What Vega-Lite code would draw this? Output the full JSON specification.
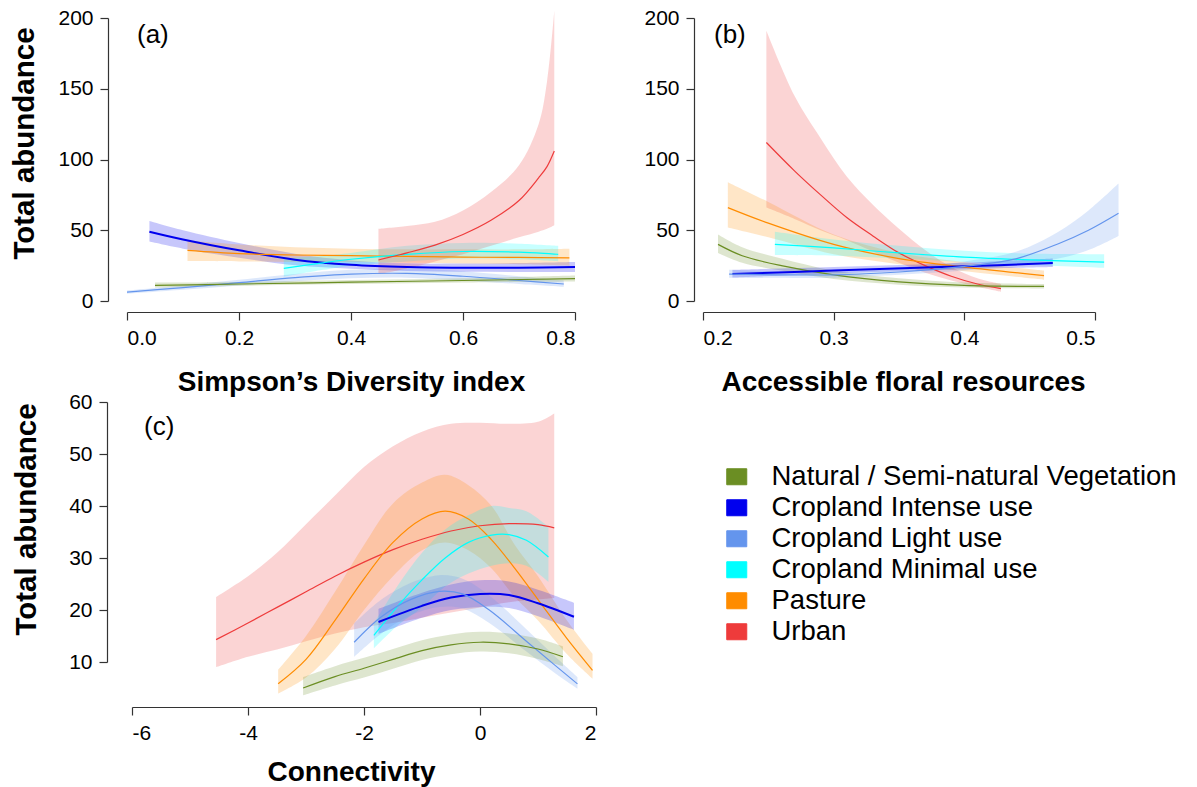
{
"$schema":"https://vega.github.io/schema/vega-lite/v6.json",
"background":"white",
"padding":{"left":8,"top":7,"right":5,"bottom":5},
"config":{
 "view":{"stroke":null},
 "font":"Liberation Sans",
 "axis":{"grid":false,"domainColor":"#333","tickColor":"#333","domainWidth":1.2,"tickWidth":1.2,"tickSize":8,"labelFontSize":21,"labelColor":"#000","labelPadding":7,"titleFontSize":28,"titleFontWeight":"bold","titleColor":"#000","labelFont":"Liberation Sans","titleFont":"Liberation Sans"},
 "axisY":{"titleFontSize":29.5},
 "title":{"fontSize":26,"fontWeight":"normal","color":"#000","anchor":"start","frame":"group","font":"Liberation Sans","baseline":"alphabetic"},
 "legend":{"padding":0}
},
"datasets":{"d":[
{"p":"a","g":"Cropland Intense use","x":0.04,"y":49,"lo":42,"hi":56.5},
{"p":"a","g":"Cropland Intense use","x":0.1,"y":43.5,"lo":37,"hi":50},
{"p":"a","g":"Cropland Intense use","x":0.2,"y":35.8,"lo":30.6,"hi":41},
{"p":"a","g":"Cropland Intense use","x":0.3,"y":29.2,"lo":25.2,"hi":33.4},
{"p":"a","g":"Cropland Intense use","x":0.4,"y":25.6,"lo":22.8,"hi":28.7},
{"p":"a","g":"Cropland Intense use","x":0.5,"y":24,"lo":21.2,"hi":26.6},
{"p":"a","g":"Cropland Intense use","x":0.6,"y":23.5,"lo":20.6,"hi":26.5},
{"p":"a","g":"Cropland Intense use","x":0.7,"y":23.5,"lo":20.5,"hi":26.8},
{"p":"a","g":"Cropland Intense use","x":0.8,"y":24,"lo":20.5,"hi":27.5},
{"p":"a","g":"Pasture","x":0.108,"y":35.8,"lo":28.2,"hi":42.8},
{"p":"a","g":"Pasture","x":0.2,"y":33.5,"lo":28,"hi":40},
{"p":"a","g":"Pasture","x":0.3,"y":32.5,"lo":27.5,"hi":38},
{"p":"a","g":"Pasture","x":0.4,"y":32,"lo":27.5,"hi":37},
{"p":"a","g":"Pasture","x":0.5,"y":31.5,"lo":27,"hi":36.5},
{"p":"a","g":"Pasture","x":0.6,"y":31,"lo":26.5,"hi":36.5},
{"p":"a","g":"Pasture","x":0.7,"y":30.8,"lo":26,"hi":36.5},
{"p":"a","g":"Pasture","x":0.79,"y":30.5,"lo":25,"hi":37},
{"p":"a","g":"Cropland Minimal use","x":0.28,"y":23,"lo":17,"hi":30},
{"p":"a","g":"Cropland Minimal use","x":0.35,"y":27,"lo":22,"hi":32},
{"p":"a","g":"Cropland Minimal use","x":0.4,"y":29.5,"lo":25,"hi":34},
{"p":"a","g":"Cropland Minimal use","x":0.5,"y":33,"lo":28,"hi":39},
{"p":"a","g":"Cropland Minimal use","x":0.6,"y":35,"lo":30,"hi":41},
{"p":"a","g":"Cropland Minimal use","x":0.7,"y":34.5,"lo":29.5,"hi":40.5},
{"p":"a","g":"Cropland Minimal use","x":0.77,"y":33,"lo":28,"hi":39},
{"p":"a","g":"Cropland Light use","x":0,"y":6.3,"lo":5.2,"hi":7.5},
{"p":"a","g":"Cropland Light use","x":0.1,"y":9.5,"lo":8,"hi":11},
{"p":"a","g":"Cropland Light use","x":0.2,"y":13,"lo":11,"hi":15},
{"p":"a","g":"Cropland Light use","x":0.3,"y":16.5,"lo":14,"hi":19},
{"p":"a","g":"Cropland Light use","x":0.4,"y":19,"lo":16,"hi":22},
{"p":"a","g":"Cropland Light use","x":0.5,"y":19.5,"lo":16.5,"hi":23},
{"p":"a","g":"Cropland Light use","x":0.6,"y":17.5,"lo":14.5,"hi":21},
{"p":"a","g":"Cropland Light use","x":0.7,"y":14.5,"lo":12,"hi":17.5},
{"p":"a","g":"Cropland Light use","x":0.78,"y":12,"lo":10,"hi":14.5},
{"p":"a","g":"Natural / Semi-natural Vegetation","x":0.05,"y":11,"lo":9.5,"hi":13},
{"p":"a","g":"Natural / Semi-natural Vegetation","x":0.2,"y":12,"lo":10.8,"hi":13.5},
{"p":"a","g":"Natural / Semi-natural Vegetation","x":0.4,"y":13.3,"lo":12,"hi":14.8},
{"p":"a","g":"Natural / Semi-natural Vegetation","x":0.6,"y":14.5,"lo":13,"hi":16},
{"p":"a","g":"Natural / Semi-natural Vegetation","x":0.8,"y":15.8,"lo":13.8,"hi":18},
{"p":"a","g":"Urban","x":0.449,"y":29,"lo":19,"hi":51},
{"p":"a","g":"Urban","x":0.5,"y":34,"lo":23,"hi":53},
{"p":"a","g":"Urban","x":0.55,"y":39.5,"lo":28,"hi":56},
{"p":"a","g":"Urban","x":0.6,"y":47,"lo":33,"hi":64},
{"p":"a","g":"Urban","x":0.65,"y":57,"lo":39,"hi":77},
{"p":"a","g":"Urban","x":0.7,"y":71,"lo":45,"hi":96},
{"p":"a","g":"Urban","x":0.735,"y":87,"lo":49,"hi":125},
{"p":"a","g":"Urban","x":0.75,"y":95,"lo":51,"hi":155},
{"p":"a","g":"Urban","x":0.763,"y":106,"lo":53.5,"hi":205},
{"p":"b","g":"Urban","x":0.2485,"y":112,"lo":66,"hi":191},
{"p":"b","g":"Urban","x":0.27,"y":92,"lo":58,"hi":145},
{"p":"b","g":"Urban","x":0.29,"y":75,"lo":50,"hi":115},
{"p":"b","g":"Urban","x":0.31,"y":59,"lo":43,"hi":88},
{"p":"b","g":"Urban","x":0.33,"y":46,"lo":35,"hi":68},
{"p":"b","g":"Urban","x":0.35,"y":34,"lo":27,"hi":51},
{"p":"b","g":"Urban","x":0.37,"y":25,"lo":20,"hi":36},
{"p":"b","g":"Urban","x":0.39,"y":17.5,"lo":14.5,"hi":24},
{"p":"b","g":"Urban","x":0.41,"y":12,"lo":10,"hi":16},
{"p":"b","g":"Urban","x":0.428,"y":8.7,"lo":6.5,"hi":12},
{"p":"b","g":"Pasture","x":0.219,"y":66,"lo":52,"hi":84},
{"p":"b","g":"Pasture","x":0.25,"y":55,"lo":45,"hi":70},
{"p":"b","g":"Pasture","x":0.3,"y":40,"lo":33,"hi":47},
{"p":"b","g":"Pasture","x":0.35,"y":30,"lo":26,"hi":34},
{"p":"b","g":"Pasture","x":0.4,"y":24,"lo":21,"hi":27.5},
{"p":"b","g":"Pasture","x":0.461,"y":18,"lo":15,"hi":21.5},
{"p":"b","g":"Natural / Semi-natural Vegetation","x":0.2115,"y":40,"lo":34,"hi":47},
{"p":"b","g":"Natural / Semi-natural Vegetation","x":0.23,"y":32,"lo":27,"hi":38},
{"p":"b","g":"Natural / Semi-natural Vegetation","x":0.26,"y":25,"lo":21.5,"hi":30},
{"p":"b","g":"Natural / Semi-natural Vegetation","x":0.3,"y":18.5,"lo":15.5,"hi":21.5},
{"p":"b","g":"Natural / Semi-natural Vegetation","x":0.35,"y":13.5,"lo":11.5,"hi":16},
{"p":"b","g":"Natural / Semi-natural Vegetation","x":0.4,"y":11,"lo":9.5,"hi":13},
{"p":"b","g":"Natural / Semi-natural Vegetation","x":0.461,"y":10.3,"lo":8.8,"hi":12},
{"p":"b","g":"Cropland Minimal use","x":0.255,"y":40,"lo":32.5,"hi":49},
{"p":"b","g":"Cropland Minimal use","x":0.3,"y":37.5,"lo":32,"hi":43.5},
{"p":"b","g":"Cropland Minimal use","x":0.35,"y":34,"lo":30,"hi":39},
{"p":"b","g":"Cropland Minimal use","x":0.4,"y":31,"lo":27.5,"hi":35.5},
{"p":"b","g":"Cropland Minimal use","x":0.45,"y":29,"lo":25.5,"hi":33.5},
{"p":"b","g":"Cropland Minimal use","x":0.507,"y":27.5,"lo":23.5,"hi":33},
{"p":"b","g":"Cropland Intense use","x":0.2225,"y":19,"lo":16.5,"hi":22},
{"p":"b","g":"Cropland Intense use","x":0.3,"y":21.5,"lo":19.5,"hi":24},
{"p":"b","g":"Cropland Intense use","x":0.4,"y":24.5,"lo":22.5,"hi":27},
{"p":"b","g":"Cropland Intense use","x":0.4677,"y":26.8,"lo":24,"hi":30},
{"p":"b","g":"Cropland Light use","x":0.22,"y":19,"lo":16.5,"hi":22},
{"p":"b","g":"Cropland Light use","x":0.3,"y":18.5,"lo":16.5,"hi":20.5},
{"p":"b","g":"Cropland Light use","x":0.35,"y":20.5,"lo":18.5,"hi":23},
{"p":"b","g":"Cropland Light use","x":0.4,"y":24.5,"lo":21.5,"hi":28},
{"p":"b","g":"Cropland Light use","x":0.44,"y":30,"lo":25.5,"hi":35},
{"p":"b","g":"Cropland Light use","x":0.472,"y":40.5,"lo":30,"hi":49},
{"p":"b","g":"Cropland Light use","x":0.495,"y":50,"lo":36,"hi":64},
{"p":"b","g":"Cropland Light use","x":0.518,"y":62,"lo":46,"hi":83},
{"p":"c","g":"Urban","x":-4.55,"y":14.3,"lo":9,"hi":22.5},
{"p":"c","g":"Urban","x":-4.0,"y":17.5,"lo":11,"hi":26.5},
{"p":"c","g":"Urban","x":-3.5,"y":20.5,"lo":12.4,"hi":31},
{"p":"c","g":"Urban","x":-3.0,"y":23.5,"lo":14,"hi":36.5},
{"p":"c","g":"Urban","x":-2.5,"y":26.5,"lo":15.5,"hi":42},
{"p":"c","g":"Urban","x":-2.0,"y":29.2,"lo":16.7,"hi":47.5},
{"p":"c","g":"Urban","x":-1.5,"y":31.6,"lo":17.5,"hi":51.5},
{"p":"c","g":"Urban","x":-1.0,"y":33.6,"lo":18.5,"hi":54.3},
{"p":"c","g":"Urban","x":-0.5,"y":35.2,"lo":19.5,"hi":55.8},
{"p":"c","g":"Urban","x":0.0,"y":36.2,"lo":20.5,"hi":56},
{"p":"c","g":"Urban","x":0.5,"y":36.6,"lo":21.5,"hi":55.8},
{"p":"c","g":"Urban","x":1.0,"y":36.4,"lo":22,"hi":56.2},
{"p":"c","g":"Urban","x":1.28,"y":35.8,"lo":22.3,"hi":57.8},
{"p":"c","g":"Pasture","x":-3.48,"y":5.8,"lo":3.9,"hi":8.5},
{"p":"c","g":"Pasture","x":-3.0,"y":10.5,"lo":7,"hi":15},
{"p":"c","g":"Pasture","x":-2.5,"y":18,"lo":12.5,"hi":23.5},
{"p":"c","g":"Pasture","x":-2.0,"y":26,"lo":20,"hi":32.5},
{"p":"c","g":"Pasture","x":-1.5,"y":33,"lo":26.5,"hi":40.5},
{"p":"c","g":"Pasture","x":-1.0,"y":37.5,"lo":31.5,"hi":44.5},
{"p":"c","g":"Pasture","x":-0.6,"y":39,"lo":33,"hi":46},
{"p":"c","g":"Pasture","x":-0.2,"y":37.5,"lo":31.5,"hi":44},
{"p":"c","g":"Pasture","x":0.2,"y":33.5,"lo":28,"hi":40},
{"p":"c","g":"Pasture","x":0.6,"y":28,"lo":22.5,"hi":32.5},
{"p":"c","g":"Pasture","x":1.0,"y":22,"lo":18,"hi":26.5},
{"p":"c","g":"Pasture","x":1.5,"y":14.5,"lo":11.5,"hi":18},
{"p":"c","g":"Pasture","x":1.94,"y":8.4,"lo":6.8,"hi":11.6},
{"p":"c","g":"Cropland Minimal use","x":-1.83,"y":15.1,"lo":12.6,"hi":17.4},
{"p":"c","g":"Cropland Minimal use","x":-1.4,"y":21,"lo":17.2,"hi":25},
{"p":"c","g":"Cropland Minimal use","x":-1.0,"y":25.8,"lo":20.5,"hi":31},
{"p":"c","g":"Cropland Minimal use","x":-0.6,"y":30,"lo":24.5,"hi":35.5},
{"p":"c","g":"Cropland Minimal use","x":-0.2,"y":33,"lo":27,"hi":38.2},
{"p":"c","g":"Cropland Minimal use","x":0.2,"y":34.4,"lo":28.5,"hi":40},
{"p":"c","g":"Cropland Minimal use","x":0.5,"y":34.5,"lo":29,"hi":39.6},
{"p":"c","g":"Cropland Minimal use","x":0.8,"y":33.4,"lo":28.5,"hi":39},
{"p":"c","g":"Cropland Minimal use","x":1.18,"y":30.2,"lo":25.4,"hi":36},
{"p":"c","g":"Cropland Intense use","x":-1.75,"y":17.7,"lo":15.4,"hi":20.2},
{"p":"c","g":"Cropland Intense use","x":-1.0,"y":20.8,"lo":18.5,"hi":23.3},
{"p":"c","g":"Cropland Intense use","x":-0.5,"y":22.4,"lo":20,"hi":24.9},
{"p":"c","g":"Cropland Intense use","x":0.0,"y":23.1,"lo":20.6,"hi":25.7},
{"p":"c","g":"Cropland Intense use","x":0.5,"y":22.9,"lo":20.4,"hi":25.5},
{"p":"c","g":"Cropland Intense use","x":1.0,"y":21.3,"lo":18.8,"hi":23.9},
{"p":"c","g":"Cropland Intense use","x":1.62,"y":18.7,"lo":16.2,"hi":21.4},
{"p":"c","g":"Cropland Light use","x":-2.17,"y":13.8,"lo":11,"hi":17.4},
{"p":"c","g":"Cropland Light use","x":-1.7,"y":18.7,"lo":15.5,"hi":22},
{"p":"c","g":"Cropland Light use","x":-1.2,"y":22,"lo":19,"hi":25.2},
{"p":"c","g":"Cropland Light use","x":-0.7,"y":23.6,"lo":20.6,"hi":26.7},
{"p":"c","g":"Cropland Light use","x":-0.3,"y":23.1,"lo":20.3,"hi":26},
{"p":"c","g":"Cropland Light use","x":0.16,"y":20,"lo":17.5,"hi":22.8},
{"p":"c","g":"Cropland Light use","x":0.8,"y":14,"lo":12,"hi":16.3},
{"p":"c","g":"Cropland Light use","x":1.3,"y":9.3,"lo":7.8,"hi":11},
{"p":"c","g":"Cropland Light use","x":1.68,"y":5.8,"lo":4.9,"hi":7.1},
{"p":"c","g":"Natural / Semi-natural Vegetation","x":-3.05,"y":5,"lo":3.6,"hi":7.1},
{"p":"c","g":"Natural / Semi-natural Vegetation","x":-2.5,"y":7.2,"lo":5.5,"hi":9.2},
{"p":"c","g":"Natural / Semi-natural Vegetation","x":-2.0,"y":8.8,"lo":7,"hi":10.8},
{"p":"c","g":"Natural / Semi-natural Vegetation","x":-1.5,"y":10.5,"lo":8.7,"hi":12.5},
{"p":"c","g":"Natural / Semi-natural Vegetation","x":-1.0,"y":12.2,"lo":10.4,"hi":14.2},
{"p":"c","g":"Natural / Semi-natural Vegetation","x":-0.5,"y":13.3,"lo":11.5,"hi":15.3},
{"p":"c","g":"Natural / Semi-natural Vegetation","x":0.0,"y":13.8,"lo":12,"hi":15.8},
{"p":"c","g":"Natural / Semi-natural Vegetation","x":0.5,"y":13.5,"lo":11.7,"hi":15.5},
{"p":"c","g":"Natural / Semi-natural Vegetation","x":1.0,"y":12.5,"lo":10.6,"hi":14.5},
{"p":"c","g":"Natural / Semi-natural Vegetation","x":1.43,"y":11,"lo":9.2,"hi":13}
]},
"concat":[
  {"width":448,"height":283,
   "title":{"text":"(a)","dx":10,"offset":-41},
   "data":{"name":"d"},
   "transform":[{"filter":"datum.p==='a'"}],
   "encoding":{"x":{"field":"x","type":"quantitative","scale":{"domain":[0,0.8],"nice":false,"zero":false},"axis":{"values":[0,0.2,0.4,0.6,0.8],"format":".1f","offset":11,"title":"Simpson’s Diversity index","titleY":78,"titleBaseline":"alphabetic"}}},
   "layer":[
    {"mark":{"type":"area","fillOpacity":0.22,"interpolate":"catmull-rom"},
     "encoding":{"y":{"field":"lo","type":"quantitative","scale":{"domain":[0,200],"nice":false,"zero":false},"axis":{"values":[0,50,100,150,200],"offset":19,"title":"Total abundance","titleX":-75,"titleY":125,"titleBaseline":"alphabetic"}},"y2":{"field":"hi"},
      "color":{"field":"g","type":"nominal","scale":{"domain":["Natural / Semi-natural Vegetation","Cropland Intense use","Cropland Light use","Cropland Minimal use","Pasture","Urban"],"range":["#6B8E23","#0000EE","#6495ED","#00FFFF","#FF8C00","#EE3B3B"]},
       "legend":{"orient":"none","legendX":596,"legendY":445,"title":null,"symbolType":"M-1,-0.8H1V0.8H-1Z","symbolSize":400,"symbolStrokeColor":"#333","symbolStrokeWidth":1,"symbolOpacity":1,"symbolFillOpacity":1,"labelFontSize":27.5,"labelOffset":21,"rowPadding":2,"labelColor":"#000","labelFont":"Liberation Sans","labelLimit":600}}}},
    {"mark":{"type":"line","interpolate":"catmull-rom"},
     "encoding":{"y":{"field":"y","type":"quantitative","axis":{"values":[0,50,100,150,200],"offset":19,"title":"Total abundance","titleX":-75,"titleY":125,"titleBaseline":"alphabetic"}},
      "color":{"field":"g","type":"nominal","legend":null},
      "strokeWidth":{"condition":{"test":"datum.g==='Cropland Intense use'","value":2},"value":1.2}}}
   ]},
  {"width":392,"height":283,
   "title":{"text":"(b)","dx":11,"offset":-41},
   "data":{"name":"d"},
   "transform":[{"filter":"datum.p==='b'"}],
   "encoding":{"x":{"field":"x","type":"quantitative","scale":{"domain":[0.2,0.5],"nice":false,"zero":false},"axis":{"values":[0.2,0.3,0.4,0.5],"format":".1f","offset":11,"title":"Accessible floral resources","titleX":200,"titleY":78,"titleBaseline":"alphabetic"}}},
   "layer":[
    {"mark":{"type":"area","fillOpacity":0.22,"interpolate":"catmull-rom"},
     "encoding":{"y":{"field":"lo","type":"quantitative","scale":{"domain":[0,200],"nice":false,"zero":false},"axis":{"values":[0,50,100,150,200],"offset":9,"title":null}},"y2":{"field":"hi"},
      "color":{"field":"g","type":"nominal",
       "legend":{"orient":"none","legendX":596,"legendY":445,"title":null,"symbolType":"M-1,-0.8H1V0.8H-1Z","symbolSize":400,"symbolStrokeColor":"#333","symbolStrokeWidth":1,"symbolOpacity":1,"symbolFillOpacity":1,"labelFontSize":27.5,"labelOffset":21,"rowPadding":2,"labelColor":"#000","labelFont":"Liberation Sans","labelLimit":600}}}},
    {"mark":{"type":"line","interpolate":"catmull-rom"},
     "encoding":{"y":{"field":"y","type":"quantitative","axis":{"values":[0,50,100,150,200],"offset":9,"title":null}},
      "color":{"field":"g","type":"nominal","legend":null},
      "strokeWidth":{"condition":{"test":"datum.g==='Cropland Intense use'","value":2},"value":1.2}}}
   ]},
  {"width":469,"height":260,
   "title":{"text":"(c)","dx":17,"offset":-49},
   "data":{"name":"d"},
   "transform":[{"filter":"datum.p==='c'"}],
   "encoding":{"x":{"field":"x","type":"quantitative","scale":{"domain":[-6,2],"range":[5,469],"nice":false,"zero":false},"axis":{"values":[-6,-4,-2,0,2],"labelExpr":"''+datum.value","offset":45,"title":"Connectivity","titleX":224,"titleY":73,"titleBaseline":"alphabetic"}}},
   "layer":[
    {"mark":{"type":"area","fillOpacity":0.22,"interpolate":"catmull-rom"},
     "encoding":{"y":{"field":"lo","type":"quantitative","scale":{"domain":[10,60],"nice":false,"zero":false},"axis":{"values":[10,20,30,40,50,60],"offset":20,"title":"Total abundance","titleX":-72,"titleY":117,"titleBaseline":"alphabetic"}},"y2":{"field":"hi"},
      "color":{"field":"g","type":"nominal",
       "legend":{"orient":"none","legendX":596,"legendY":445,"title":null,"symbolType":"M-1,-0.8H1V0.8H-1Z","symbolSize":400,"symbolStrokeColor":"#333","symbolStrokeWidth":1,"symbolOpacity":1,"symbolFillOpacity":1,"labelFontSize":27.5,"labelOffset":21,"rowPadding":2,"labelColor":"#000","labelFont":"Liberation Sans","labelLimit":600}}}},
    {"mark":{"type":"line","interpolate":"catmull-rom"},
     "encoding":{"y":{"field":"y","type":"quantitative","axis":{"values":[10,20,30,40,50,60],"offset":20,"title":"Total abundance","titleX":-72,"titleY":117,"titleBaseline":"alphabetic"}},
      "color":{"field":"g","type":"nominal","legend":null},
      "strokeWidth":{"condition":{"test":"datum.g==='Cropland Intense use'","value":2},"value":1.2}}}
   ]}
],
"columns":2,
"spacing":{"row":101,"column":107},
"bounds":"flush"
}
